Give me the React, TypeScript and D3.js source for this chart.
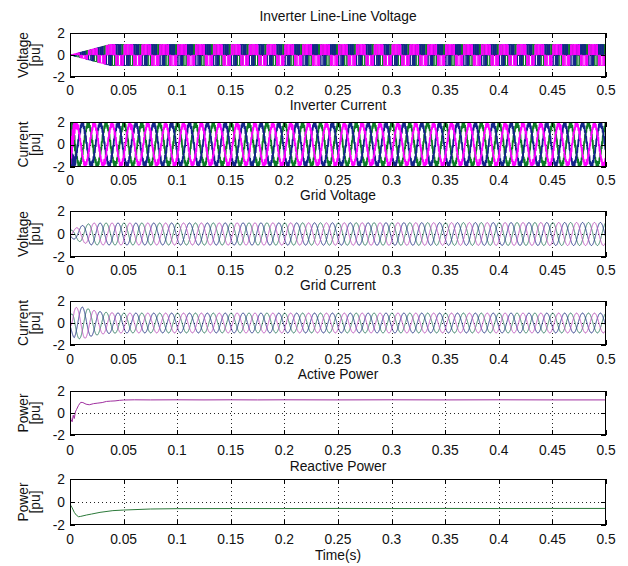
import React, { useMemo } from 'react';
import * as d3 from 'd3';

// ---------------- data ----------------
const X_TICKS = [0, 0.05, 0.1, 0.15, 0.2, 0.25, 0.3, 0.35, 0.4, 0.45, 0.5];
const X_TICK_LABELS = ['0', '0.05', '0.1', '0.15', '0.2', '0.25', '0.3', '0.35', '0.4', '0.45', '0.5'];
const Y_TICKS = [-2, 0, 2];
const Y_TICK_LABELS = ['-2', '0', '2'];
const PANEL_TITLES = ['Inverter Line-Line Voltage', 'Inverter Current', 'Grid Voltage', 'Grid Current', 'Active Power', 'Reactive Power'];
const PANEL_YLABELS = ['Voltage', 'Current', 'Voltage', 'Current', 'Power', 'Power'];
const Y_UNIT = '[pu]';
const X_LABEL = 'Time(s)';

// waveform parameters
const FUNDAMENTAL_HZ = 60;
const PWM_CARRIER_HZ = 720;
const CURRENT_RIPPLE_HZ = 1260;
const MOD_INDEX = 1.25;
const PHASE_A_PEAK_TIME = 0.0059; // phase a (magenta) first peak of grid current

// envelopes (time, value) keyframes
const LL_VOLT_ENV_T = [0, 0.037, 0.5];
const LL_VOLT_ENV_V = [0, 0.95, 0.95];

const INV_CUR_AMP_T = [0, 0.5];
const INV_CUR_AMP_V = [1.82, 1.82];
const INV_CUR_RIPPLE_T = [0, 0.003, 0.006, 0.5];
const INV_CUR_RIPPLE_V = [0.9, 0.9, 0.2, 0.2];

const GRID_VOLT_AMP_T = [0, 0.01, 0.02, 0.5];
const GRID_VOLT_AMP_V = [0.3, 0.7, 0.95, 1.0];

const GRID_CUR_AMP_T = [0, 0.004, 0.012, 0.02, 0.03, 0.04, 0.05, 0.5];
const GRID_CUR_AMP_V = [0.6, 1.4, 1.45, 1.2, 1.0, 0.93, 0.9, 0.9];

const ACTIVE_T = [0, 0.001, 0.002, 0.003, 0.004, 0.005, 0.006, 0.008, 0.01, 0.012, 0.015, 0.018, 0.022, 0.026, 0.03, 0.034, 0.038, 0.042, 0.046, 0.05, 0.06, 0.075, 0.1, 0.125, 0.15, 0.175, 0.2, 0.25, 0.3, 0.35, 0.4, 0.45, 0.5];
const ACTIVE_P = [-0.2, -0.6, -0.8, -0.2, -0.5, 0.1, 0.3, 0.7, 0.97, 0.95, 0.8, 0.75, 0.85, 0.9, 0.95, 1.05, 1.08, 1.1, 1.15, 1.18, 1.2, 1.19, 1.2, 1.19, 1.2, 1.19, 1.2, 1.19, 1.2, 1.19, 1.2, 1.19, 1.19];

const REACTIVE_T = [0, 0.002, 0.004, 0.006, 0.008, 0.01, 0.0155, 0.02, 0.028, 0.04, 0.05, 0.075, 0.1, 0.15, 0.2, 0.25, 0.3, 0.35, 0.4, 0.45, 0.5];
const REACTIVE_Q = [-0.2, -0.5, -0.9, -1.15, -1.28, -1.25, -1.13, -1.05, -0.9, -0.75, -0.7, -0.61, -0.58, -0.57, -0.57, -0.56, -0.57, -0.56, -0.57, -0.56, -0.56];

// ---------------- layout / style ----------------
const W = 628;
const H = 566;
const LEFT = 70;
const RIGHT = 606;
const PANEL_TOPS = [33, 122, 211, 301, 391, 479];
const PANEL_BOTTOMS = [77, 167, 257, 345, 435, 525];
const TITLE_BASELINES = [20.7, 110, 200, 290, 379, 470.5];
const TICK_BASELINES = [95, 185, 275, 364, 455, 544];
const XLABEL_BASELINE = 560;
const FONT = "'Liberation Sans', Arial, Helvetica, sans-serif";
const FS = 13.8;

const INV_COLORS = ['#ff00ff', '#14238a', '#0b7a26'];
const GRID_COLORS = ['#c452c4', '#26358a', '#2c7d62'];
const ACTIVE_COLOR = '#a030a0';
const REACTIVE_COLOR = '#2c7a3a';

type Pt = [number, number];

const W0 = 2 * Math.PI * FUNDAMENTAL_HZ;
const PHI_A = Math.PI / 2 - W0 * PHASE_A_PEAK_TIME;
const PHASES = [PHI_A, PHI_A - (2 * Math.PI) / 3, PHI_A + (2 * Math.PI) / 3];

function tri(u: number) {
  const f = u - Math.floor(u);
  return 2 * Math.abs(2 * f - 1) - 1;
}

function env(T: number[], V: number[]) {
  return d3.scaleLinear().domain(T).range(V).clamp(true);
}

function buildPWM(): Pt[][] {
  const e = env(LL_VOLT_ENV_T, LL_VOLT_ENV_V);
  const dt = 4e-6;
  const N = Math.round(0.5 / dt);
  const out: Pt[][] = [[], [], []];
  const prev = [NaN, NaN, NaN];
  for (let i = 0; i <= N; i++) {
    const t = i * dt;
    const c = tri(t * PWM_CARRIER_HZ);
    const s = PHASES.map((p) => (MOD_INDEX * Math.sin(W0 * t + p) >= c ? 1 : 0));
    for (let k = 0; k < 3; k++) {
      const st = s[k] - s[(k + 1) % 3];
      if (st !== prev[k] || i === N) {
        out[k].push([t, st * e(t)]);
        prev[k] = st;
      }
    }
  }
  return out;
}

function buildInvCurrent(): Pt[][] {
  const a = env(INV_CUR_AMP_T, INV_CUR_AMP_V);
  const r = env(INV_CUR_RIPPLE_T, INV_CUR_RIPPLE_V);
  const dt = 2e-5;
  const N = Math.round(0.5 / dt);
  return PHASES.map((p, k) => {
    const pts: Pt[] = [];
    for (let i = 0; i <= N; i++) {
      const t = i * dt;
      pts.push([t, a(t) * Math.sin(W0 * t + p) + r(t) * tri(t * CURRENT_RIPPLE_HZ + k / 3)]);
    }
    return pts;
  });
}

function buildSine(T: number[], V: number[]): Pt[][] {
  const a = env(T, V);
  const dt = 4e-5;
  const N = Math.round(0.5 / dt);
  return PHASES.map((p) => {
    const pts: Pt[] = [];
    for (let i = 0; i <= N; i++) {
      const t = i * dt;
      pts.push([t, a(t) * Math.sin(W0 * t + p)]);
    }
    return pts;
  });
}

const x = d3.scaleLinear().domain([0, 0.5]).range([LEFT, RIGHT]);

function Panel({ idx, children }: { idx: number; children: (y: d3.ScaleLinear<number, number>) => React.ReactNode }) {
  const top = PANEL_TOPS[idx];
  const bottom = PANEL_BOTTOMS[idx];
  const ph = bottom - top;
  const y = d3.scaleLinear().domain([-2, 2]).range([bottom, top]);
  const cy = (top + bottom) / 2;
  const clipId = `clip-${idx}`;
  return (
    <g>
      <defs>
        <clipPath id={clipId}>
          <rect x={LEFT} y={top} width={RIGHT - LEFT} height={ph} />
        </clipPath>
      </defs>
      <rect x={LEFT} y={top} width={RIGHT - LEFT} height={ph} fill="#fff" />
      {/* grid */}
      <g stroke="#000" strokeWidth={1} strokeDasharray="1 3" opacity={0.85}>
        {X_TICKS.slice(1, -1).map((t) => (
          <line key={t} x1={Math.round(x(t)) + 0.5} x2={Math.round(x(t)) + 0.5} y1={top} y2={bottom} />
        ))}
        <line x1={LEFT} x2={RIGHT} y1={Math.round(y(0)) + 0.5} y2={Math.round(y(0)) + 0.5} />
      </g>
      <g clipPath={`url(#${clipId})`}>{children(y)}</g>
      {/* box */}
      <rect x={LEFT + 0.5} y={top + 0.5} width={RIGHT - LEFT - 1} height={ph - 1} fill="none" stroke="#000" strokeWidth={1} />
      {/* ticks */}
      <g stroke="#000" strokeWidth={1}>
        {X_TICKS.map((t) => {
          const xx = Math.round(x(t)) + 0.5;
          return (
            <g key={t}>
              <line x1={xx} x2={xx} y1={top} y2={top + 5} />
              <line x1={xx} x2={xx} y1={bottom} y2={bottom - 5} />
            </g>
          );
        })}
        {Y_TICKS.map((v) => {
          const yy = Math.round(y(v)) + 0.5;
          return (
            <g key={v}>
              <line x1={LEFT} x2={LEFT + 5} y1={yy} y2={yy} />
              <line x1={RIGHT} x2={RIGHT - 5} y1={yy} y2={yy} />
            </g>
          );
        })}
      </g>
      {/* tick labels */}
      <g fontSize={FS} fill="#111">
        {X_TICKS.map((t, i) => (
          <text key={t} x={x(t)} y={TICK_BASELINES[idx]} textAnchor="middle">
            {X_TICK_LABELS[i]}
          </text>
        ))}
        {Y_TICKS.map((v, i) => (
          <text key={v} x={65} y={y(v)} dy="0.36em" textAnchor="end">
            {Y_TICK_LABELS[i]}
          </text>
        ))}
      </g>
      {/* title */}
      <text x={(LEFT + RIGHT) / 2} y={TITLE_BASELINES[idx]} textAnchor="middle" fontSize={FS} fill="#111">
        {PANEL_TITLES[idx]}
      </text>
      {/* y label */}
      <text transform={`translate(27.5,${cy}) rotate(-90)`} textAnchor="middle" fontSize={FS} fill="#111">
        {PANEL_YLABELS[idx]}
      </text>
      <text transform={`translate(40,${cy}) rotate(-90)`} textAnchor="middle" fontSize={FS} fill="#111">
        {Y_UNIT}
      </text>
    </g>
  );
}

export default function App() {
  const series = useMemo(
    () => ({
      pwm: buildPWM(),
      invCur: buildInvCurrent(),
      gridV: buildSine(GRID_VOLT_AMP_T, GRID_VOLT_AMP_V),
      gridI: buildSine(GRID_CUR_AMP_T, GRID_CUR_AMP_V),
    }),
    []
  );

  const mkLine = (y: d3.ScaleLinear<number, number>, curve: d3.CurveFactory = d3.curveLinear) =>
    d3
      .line<Pt>()
      .x((d) => x(d[0]))
      .y((d) => y(d[1]))
      .curve(curve);

  const drawOrder = [2, 1, 0];

  return (
    <svg
      width={W}
      height={H}
      viewBox={`0 0 ${W} ${H}`}
      style={{ position: 'absolute', left: 0, top: 0, display: 'block', background: '#fff' }}
      fontFamily={FONT}
    >
      <rect x={0} y={0} width={W} height={H} fill="#fff" />
      <Panel idx={0}>
        {(y) =>
          drawOrder.map((k) => (
            <path key={k} d={mkLine(y, d3.curveStepAfter)(series.pwm[k]) || ''} fill="none" stroke={INV_COLORS[k]} strokeWidth={1} />
          ))
        }
      </Panel>
      <Panel idx={1}>
        {(y) =>
          drawOrder.map((k) => (
            <path key={k} d={mkLine(y)(series.invCur[k]) || ''} fill="none" stroke={INV_COLORS[k]} strokeWidth={1.8} />
          ))
        }
      </Panel>
      <Panel idx={2}>
        {(y) =>
          drawOrder.map((k) => (
            <path key={k} d={mkLine(y)(series.gridV[k]) || ''} fill="none" stroke={GRID_COLORS[k]} strokeWidth={1} />
          ))
        }
      </Panel>
      <Panel idx={3}>
        {(y) =>
          drawOrder.map((k) => (
            <path key={k} d={mkLine(y)(series.gridI[k]) || ''} fill="none" stroke={GRID_COLORS[k]} strokeWidth={1} />
          ))
        }
      </Panel>
      <Panel idx={4}>
        {(y) => (
          <path d={mkLine(y)(ACTIVE_T.map((t, i) => [t, ACTIVE_P[i]] as Pt)) || ''} fill="none" stroke={ACTIVE_COLOR} strokeWidth={1} />
        )}
      </Panel>
      <Panel idx={5}>
        {(y) => (
          <path d={mkLine(y)(REACTIVE_T.map((t, i) => [t, REACTIVE_Q[i]] as Pt)) || ''} fill="none" stroke={REACTIVE_COLOR} strokeWidth={1} />
        )}
      </Panel>
      <text x={(LEFT + RIGHT) / 2} y={XLABEL_BASELINE} textAnchor="middle" fontSize={FS} fill="#111">
        {X_LABEL}
      </text>
    </svg>
  );
}
